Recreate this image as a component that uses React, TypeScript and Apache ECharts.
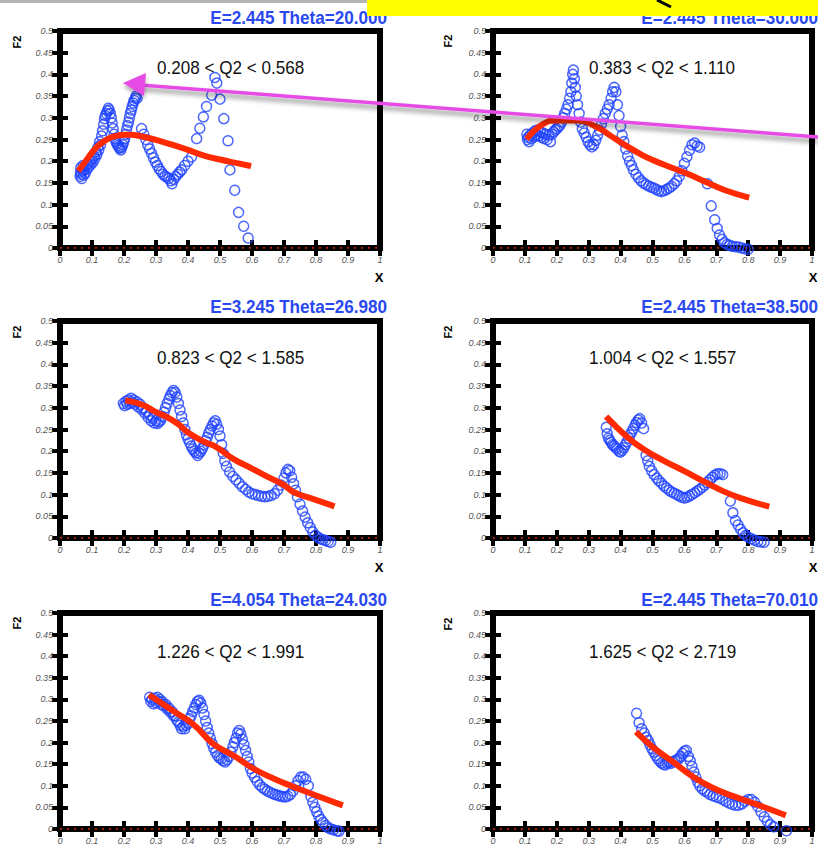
import React, { useEffect, useRef } from "react";
import * as echarts from "echarts";

// ---- Data ----
const X_MIN = 0, X_MAX = 1, X_STEP = 0.1;
const Y_MIN = 0, Y_MAX = 0.5, Y_STEP = 0.05;

const TITLES = [
  "E=2.445 Theta=20.000",
  "E=2.445 Theta=30.000",
  "E=3.245 Theta=26.980",
  "E=2.445 Theta=38.500",
  "E=4.054 Theta=24.030",
  "E=2.445 Theta=70.010",
];
const Q2_RANGES = [
  "0.208 < Q2 < 0.568",
  "0.383 < Q2 < 1.110",
  "0.823 < Q2 < 1.585",
  "1.004 < Q2 < 1.557",
  "1.226 < Q2 < 1.991",
  "1.625 < Q2 < 2.719",
];

const DATA_1 = [
  [0.063,0.165],[0.064,0.175],[0.065,0.185],[0.066,0.17],[0.068,0.16],[0.07,0.178],[0.072,0.19],[0.074,0.168],[0.076,0.18],[0.079,0.172],
  [0.082,0.19],[0.085,0.182],[0.088,0.195],[0.091,0.188],[0.094,0.2],[0.097,0.193],[0.1,0.205],[0.103,0.198],[0.106,0.212],[0.109,0.206],
  [0.112,0.222],[0.115,0.215],[0.118,0.232],[0.121,0.226],[0.124,0.245],[0.127,0.238],[0.13,0.258],[0.133,0.27],[0.136,0.285],[0.139,0.298],
  [0.142,0.305],[0.145,0.31],[0.148,0.316],[0.151,0.322],[0.154,0.318],[0.157,0.31],[0.16,0.3],[0.163,0.288],[0.166,0.275],[0.169,0.262],
  [0.172,0.252],[0.175,0.245],[0.178,0.24],[0.181,0.236],[0.184,0.232],[0.187,0.23],[0.19,0.226],[0.193,0.232],[0.196,0.238],[0.199,0.245],
  [0.202,0.252],[0.205,0.262],[0.208,0.272],[0.211,0.282],[0.214,0.29],[0.217,0.3],[0.22,0.31],[0.223,0.318],[0.226,0.326],[0.229,0.334],
  [0.232,0.34],[0.235,0.345],[0.238,0.35],[0.241,0.345],[0.255,0.275],[0.262,0.262],[0.268,0.25],[0.274,0.238],[0.28,0.228],[0.286,0.218],
  [0.292,0.208],[0.298,0.198],[0.304,0.19],[0.31,0.182],[0.316,0.176],[0.322,0.17],[0.328,0.166],[0.334,0.163],[0.34,0.16],[0.346,0.155],
  [0.35,0.148],[0.356,0.158],[0.362,0.165],[0.368,0.17],[0.374,0.175],[0.38,0.18],[0.39,0.19],[0.4,0.2],[0.411,0.21],[0.427,0.252],
  [0.437,0.276],[0.448,0.302],[0.458,0.326],[0.474,0.352],[0.49,0.38],[0.484,0.393],[0.5,0.343],[0.512,0.298],[0.525,0.247],[0.531,0.18],
  [0.546,0.133],[0.558,0.082],[0.574,0.05],[0.588,0.023],
];
const FIT_1 = [
  [0.063,0.183],[0.08,0.2],[0.1,0.22],[0.12,0.236],[0.14,0.247],[0.16,0.255],[0.18,0.259],[0.2,0.261],[0.22,0.261],[0.25,0.258],
  [0.3,0.249],[0.35,0.238],[0.4,0.226],[0.45,0.213],[0.5,0.204],[0.55,0.196],[0.588,0.19],
];

const DATA_2 = [
  [0.106,0.262],[0.108,0.25],[0.11,0.255],[0.113,0.245],[0.116,0.26],[0.12,0.252],[0.124,0.265],[0.128,0.256],[0.132,0.27],[0.136,0.26],
  [0.14,0.272],[0.144,0.258],[0.148,0.268],[0.152,0.255],[0.156,0.265],[0.16,0.252],[0.165,0.262],[0.17,0.25],[0.175,0.26],[0.18,0.245],
  [0.185,0.262],[0.19,0.268],[0.195,0.272],[0.2,0.275],[0.205,0.28],[0.21,0.282],[0.215,0.29],[0.22,0.3],[0.225,0.31],[0.23,0.32],
  [0.235,0.33],[0.24,0.345],[0.244,0.36],[0.247,0.38],[0.25,0.4],[0.252,0.41],[0.255,0.39],[0.258,0.37],[0.261,0.35],[0.265,0.33],
  [0.27,0.31],[0.275,0.29],[0.28,0.275],[0.286,0.265],[0.292,0.255],[0.298,0.245],[0.304,0.238],[0.31,0.233],[0.316,0.238],[0.322,0.248],
  [0.328,0.26],[0.334,0.272],[0.34,0.285],[0.346,0.298],[0.352,0.31],[0.358,0.32],[0.364,0.33],[0.37,0.345],[0.375,0.36],[0.38,0.37],
  [0.385,0.36],[0.39,0.33],[0.395,0.305],[0.4,0.28],[0.405,0.26],[0.41,0.245],[0.416,0.228],[0.422,0.212],[0.428,0.2],[0.434,0.19],
  [0.44,0.18],[0.448,0.17],[0.456,0.162],[0.464,0.155],[0.472,0.15],[0.48,0.146],[0.488,0.143],[0.496,0.14],[0.504,0.138],[0.512,0.135],
  [0.52,0.132],[0.528,0.13],[0.536,0.132],[0.544,0.135],[0.552,0.138],[0.56,0.142],[0.568,0.148],[0.576,0.155],[0.584,0.165],[0.592,0.178],
  [0.6,0.195],[0.608,0.21],[0.616,0.225],[0.624,0.238],[0.632,0.242],[0.64,0.235],[0.648,0.232],[0.672,0.148],[0.684,0.097],[0.695,0.065],
  [0.703,0.045],[0.71,0.03],[0.718,0.02],[0.726,0.012],[0.734,0.008],[0.742,0.006],[0.75,0.004],[0.76,0.003],[0.77,0.002],[0.78,0.0],
  [0.79,-0.002],[0.8,-0.003],
];
const FIT_2 = [
  [0.111,0.256],[0.158,0.286],[0.199,0.294],[0.262,0.294],[0.325,0.279],[0.366,0.26],[0.408,0.24],[0.471,0.213],[0.533,0.193],[0.606,0.172],
  [0.68,0.148],[0.732,0.132],[0.794,0.118],
];

const DATA_3 = [
  [0.198,0.31],[0.202,0.305],[0.206,0.315],[0.21,0.308],[0.214,0.318],[0.218,0.31],[0.222,0.322],[0.226,0.312],[0.23,0.318],[0.235,0.308],
  [0.24,0.314],[0.245,0.302],[0.25,0.308],[0.255,0.296],[0.26,0.3],[0.265,0.288],[0.27,0.292],[0.275,0.278],[0.28,0.284],[0.285,0.27],
  [0.29,0.276],[0.295,0.265],[0.3,0.27],[0.305,0.264],[0.31,0.268],[0.315,0.272],[0.32,0.28],[0.325,0.29],[0.33,0.3],[0.335,0.31],
  [0.34,0.32],[0.345,0.328],[0.35,0.335],[0.355,0.34],[0.36,0.335],[0.365,0.325],[0.37,0.31],[0.375,0.295],[0.38,0.28],[0.385,0.265],
  [0.39,0.25],[0.395,0.238],[0.4,0.228],[0.405,0.22],[0.41,0.212],[0.415,0.205],[0.42,0.2],[0.425,0.196],[0.43,0.19],[0.435,0.195],
  [0.44,0.2],[0.445,0.206],[0.45,0.215],[0.455,0.224],[0.46,0.232],[0.465,0.242],[0.47,0.25],[0.475,0.258],[0.48,0.265],[0.485,0.27],
  [0.49,0.262],[0.495,0.25],[0.5,0.235],[0.505,0.215],[0.51,0.195],[0.515,0.178],[0.52,0.165],[0.53,0.152],[0.54,0.142],[0.55,0.134],
  [0.56,0.126],[0.57,0.118],[0.58,0.112],[0.59,0.106],[0.6,0.102],[0.61,0.1],[0.62,0.098],[0.63,0.096],[0.64,0.095],[0.65,0.096],
  [0.66,0.098],[0.67,0.102],[0.68,0.11],[0.69,0.122],[0.7,0.138],[0.706,0.15],[0.712,0.158],[0.718,0.155],[0.724,0.14],[0.73,0.125],
  [0.736,0.11],[0.742,0.095],[0.75,0.078],[0.758,0.062],[0.766,0.048],[0.774,0.035],[0.782,0.024],[0.79,0.014],[0.798,0.006],[0.806,0.002],
  [0.814,-0.002],[0.822,-0.004],[0.83,-0.006],[0.838,-0.008],[0.846,-0.01],
];
const FIT_3 = [
  [0.213,0.316],[0.26,0.306],[0.3,0.29],[0.333,0.279],[0.37,0.262],[0.4,0.243],[0.45,0.222],[0.49,0.209],[0.54,0.183],[0.6,0.16],
  [0.646,0.142],[0.7,0.122],[0.729,0.106],[0.79,0.09],[0.849,0.075],
];

const DATA_4 = [
  [0.355,0.255],[0.358,0.24],[0.362,0.23],[0.366,0.225],[0.37,0.22],[0.375,0.215],[0.38,0.212],[0.385,0.208],[0.39,0.205],[0.395,0.2],
  [0.4,0.198],[0.405,0.202],[0.41,0.208],[0.415,0.215],[0.42,0.222],[0.425,0.23],[0.43,0.238],[0.435,0.245],[0.44,0.252],[0.445,0.26],
  [0.45,0.266],[0.455,0.272],[0.46,0.275],[0.466,0.265],[0.472,0.252],[0.48,0.19],[0.485,0.178],[0.49,0.165],[0.497,0.155],[0.505,0.146],
  [0.513,0.138],[0.52,0.132],[0.528,0.126],[0.536,0.12],[0.544,0.115],[0.552,0.11],[0.56,0.106],[0.568,0.103],[0.576,0.1],[0.584,0.097],
  [0.592,0.094],[0.6,0.092],[0.608,0.094],[0.616,0.097],[0.624,0.1],[0.632,0.104],[0.64,0.108],[0.648,0.112],[0.656,0.117],[0.664,0.122],
  [0.672,0.128],[0.68,0.134],[0.688,0.14],[0.696,0.145],[0.704,0.148],[0.712,0.148],[0.72,0.146],[0.744,0.085],[0.752,0.058],[0.76,0.04],
  [0.768,0.03],[0.776,0.02],[0.784,0.012],[0.792,0.006],[0.8,0.002],[0.81,-0.002],[0.82,-0.005],[0.83,-0.008],[0.84,-0.009],[0.85,-0.01],
];
const FIT_4 = [
  [0.361,0.275],[0.419,0.234],[0.471,0.205],[0.533,0.179],[0.6,0.154],[0.659,0.131],[0.721,0.108],[0.784,0.09],[0.857,0.074],
];

const DATA_5 = [
  [0.28,0.305],[0.284,0.295],[0.288,0.3],[0.292,0.29],[0.296,0.302],[0.3,0.292],[0.304,0.305],[0.308,0.295],[0.312,0.3],[0.316,0.288],
  [0.32,0.294],[0.325,0.285],[0.33,0.288],[0.335,0.278],[0.34,0.28],[0.345,0.27],[0.35,0.272],[0.355,0.262],[0.36,0.262],[0.365,0.252],
  [0.37,0.248],[0.375,0.24],[0.38,0.232],[0.385,0.238],[0.39,0.232],[0.395,0.24],[0.4,0.245],[0.405,0.255],[0.41,0.262],[0.415,0.272],
  [0.42,0.28],[0.425,0.288],[0.43,0.295],[0.435,0.298],[0.44,0.292],[0.445,0.28],[0.45,0.265],[0.455,0.25],[0.46,0.235],[0.465,0.222],
  [0.47,0.21],[0.475,0.198],[0.48,0.188],[0.486,0.178],[0.492,0.17],[0.498,0.165],[0.504,0.162],[0.51,0.158],[0.516,0.155],[0.522,0.16],
  [0.528,0.168],[0.534,0.178],[0.54,0.19],[0.545,0.2],[0.55,0.21],[0.555,0.222],[0.56,0.228],[0.565,0.22],[0.57,0.208],[0.575,0.195],
  [0.58,0.182],[0.585,0.168],[0.59,0.155],[0.595,0.14],[0.6,0.13],[0.608,0.12],[0.616,0.11],[0.624,0.102],[0.632,0.096],[0.64,0.092],
  [0.648,0.088],[0.656,0.085],[0.664,0.082],[0.672,0.08],[0.68,0.078],[0.688,0.076],[0.696,0.075],[0.704,0.074],[0.712,0.076],[0.72,0.08],
  [0.728,0.088],[0.736,0.1],[0.744,0.112],[0.752,0.12],[0.76,0.12],[0.768,0.115],[0.776,0.1],[0.784,0.075],[0.79,0.062],[0.796,0.05],
  [0.802,0.04],[0.808,0.03],[0.815,0.022],[0.822,0.015],[0.83,0.008],[0.838,0.003],[0.846,0.0],[0.855,-0.002],[0.865,-0.004],[0.872,-0.005],
];
const FIT_5 = [
  [0.286,0.307],[0.354,0.273],[0.417,0.242],[0.479,0.197],[0.542,0.17],[0.604,0.14],[0.667,0.117],[0.729,0.098],[0.792,0.08],[0.875,0.057],
];

const DATA_6 = [
  [0.45,0.268],[0.458,0.246],[0.466,0.232],[0.474,0.222],[0.48,0.212],[0.486,0.205],[0.492,0.195],[0.498,0.186],[0.504,0.178],[0.51,0.17],
  [0.516,0.163],[0.522,0.158],[0.528,0.153],[0.534,0.15],[0.54,0.148],[0.546,0.152],[0.552,0.155],[0.558,0.152],[0.564,0.155],[0.57,0.158],
  [0.576,0.16],[0.582,0.162],[0.588,0.168],[0.594,0.175],[0.6,0.18],[0.606,0.182],[0.612,0.168],[0.618,0.158],[0.624,0.145],[0.63,0.132],
  [0.636,0.12],[0.642,0.108],[0.648,0.1],[0.656,0.093],[0.664,0.088],[0.672,0.085],[0.68,0.08],[0.69,0.077],[0.7,0.074],[0.71,0.072],
  [0.72,0.068],[0.73,0.064],[0.74,0.06],[0.75,0.057],[0.76,0.055],[0.77,0.055],[0.78,0.058],[0.79,0.064],[0.8,0.068],[0.81,0.068],
  [0.82,0.062],[0.83,0.052],[0.84,0.04],[0.85,0.028],[0.86,0.018],[0.87,0.01],[0.88,0.005],[0.92,-0.004],
];
const FIT_6 = [
  [0.455,0.22],[0.502,0.189],[0.565,0.155],[0.627,0.121],[0.69,0.095],[0.753,0.076],[0.826,0.057],[0.909,0.034],
];

const ZERO_LINE = [[0, 0], [1, 0]];

const DATASETS = [DATA_1, DATA_2, DATA_3, DATA_4, DATA_5, DATA_6];
const FITS = [FIT_1, FIT_2, FIT_3, FIT_4, FIT_5, FIT_6];

// ---- Layout ----
const LAYOUT = [
  { left: 60, top: 31, width: 320, height: 217, titleRight: 387, titleY: 18, q2X: 157, q2Y: 68, f2X: 17, f2Y: 42, xlX: 379, xlY: 277 },
  { left: 493, top: 31, width: 319, height: 217, titleRight: 818, titleY: 18, q2X: 589, q2Y: 68, f2X: 448, f2Y: 41, xlX: 813, xlY: 277 },
  { left: 60, top: 321, width: 320, height: 217, titleRight: 387, titleY: 307, q2X: 157, q2Y: 358, f2X: 17, f2Y: 332, xlX: 379, xlY: 567 },
  { left: 493, top: 321, width: 319, height: 217, titleRight: 818, titleY: 307, q2X: 589, q2Y: 358, f2X: 448, f2Y: 332, xlX: 813, xlY: 567 },
  { left: 60, top: 613, width: 320, height: 219, titleRight: 387, titleY: 600, q2X: 157, q2Y: 652, f2X: 17, f2Y: 623, xlX: 0, xlY: 0 },
  { left: 493, top: 613, width: 319, height: 219, titleRight: 818, titleY: 600, q2X: 589, q2Y: 652, f2X: 448, f2Y: 624, xlX: 0, xlY: 0 },
];

const BLUE = "#1f42ff";
const RED = "#ff2a00";
const FONT = '"Liberation Sans", Arial, sans-serif';

function txt(x: number, y: number, text: string, opts: any = {}) {
  const { align = "left", vAlign = "middle", size = 12, weight = "normal", color = "#000", style = "normal", rotation = 0, scaleX = 1 } = opts;
  return {
    type: "text",
    x,
    y,
    rotation,
    scaleX,
    z: 50,
    style: {
      text,
      fill: color,
      font: `${style} ${weight} ${size}px ${FONT}`,
      textAlign: align,
      textVerticalAlign: vAlign,
      align,
      verticalAlign: vAlign,
    },
  };
}

function buildOption() {
  const grid: any[] = [];
  const xAxis: any[] = [];
  const yAxis: any[] = [];
  const series: any[] = [];
  const graphic: any[] = [];

  const labelStyle = { fontSize: 9, fontStyle: "italic", color: "#555", fontFamily: FONT };
  const tick = { show: true, inside: true, length: 8, lineStyle: { width: 4, color: "#000" } };

  LAYOUT.forEach((L, i) => {
    grid.push({ left: L.left, top: L.top, width: L.width, height: L.height, show: true, borderColor: "#000", borderWidth: 6, backgroundColor: "#fff" });
    const xBase = { type: "value", gridIndex: i, min: X_MIN, max: X_MAX, interval: X_STEP, axisLine: { show: false }, splitLine: { show: false }, axisTick: tick };
    const yBase = { type: "value", gridIndex: i, min: Y_MIN, max: Y_MAX, interval: Y_STEP, axisLine: { show: false }, splitLine: { show: false }, axisTick: tick };
    xAxis.push({ ...xBase, position: "bottom", axisLabel: { ...labelStyle, margin: 7 } });
    xAxis.push({ ...xBase, position: "top", axisLabel: { show: false } });
    yAxis.push({ ...yBase, position: "left", axisLabel: { ...labelStyle, margin: 7 } });
    yAxis.push({ ...yBase, position: "right", axisLabel: { show: false } });

    const xi = 2 * i;
    series.push({
      type: "line", xAxisIndex: xi, yAxisIndex: xi, data: ZERO_LINE, showSymbol: false, silent: true,
      lineStyle: { color: RED, width: 1.5, type: [2, 5] }, z: 3,
    });
    series.push({
      type: "scatter", xAxisIndex: xi, yAxisIndex: xi, data: DATASETS[i], symbol: "circle", symbolSize: 10, clip: false,
      itemStyle: { color: "rgba(0,0,0,0)", borderColor: BLUE, borderWidth: 1.5 }, z: 4,
    });
    series.push({
      type: "line", xAxisIndex: xi, yAxisIndex: xi, data: FITS[i], showSymbol: false, smooth: true,
      lineStyle: { color: RED, width: 6, cap: "square" }, z: 5,
    });

    graphic.push(txt(L.titleRight, L.titleY, TITLES[i], { align: "right", size: 19, weight: "bold", color: "#2a48f0", scaleX: 0.9 }));
    graphic.push(txt(L.q2X, L.q2Y, Q2_RANGES[i], { align: "left", size: 18, color: "#111", scaleX: 0.95 }));
    graphic.push(txt(L.f2X, L.f2Y, "F2", { align: "center", size: 11, weight: "bold", rotation: Math.PI / 2 }));
    if (L.xlY > 0) graphic.push(txt(L.xlX, L.xlY, "X", { align: "center", size: 13, weight: "bold" }));
  });

  // top decorations
  graphic.push({ type: "rect", shape: { x: 0, y: 0, width: 367, height: 3 }, style: { fill: "#b4b4b4" }, z: 60 });
  graphic.push({ type: "rect", shape: { x: 367, y: 0, width: 451, height: 16 }, style: { fill: "#ffff00" }, z: 60 });
  graphic.push({ type: "line", shape: { x1: 657, y1: 0, x2: 671, y2: 7 }, style: { stroke: "#000", lineWidth: 3 }, z: 61 });

  // magenta arrow
  graphic.push({
    type: "line", shape: { x1: 818, y1: 137, x2: 140, y2: 85 },
    style: { stroke: "#e64ce6", lineWidth: 3.5, shadowColor: "rgba(0,0,0,0.45)", shadowBlur: 5, shadowOffsetY: 4 }, z: 70,
  });
  graphic.push({
    type: "polygon", shape: { points: [[123, 83], [146, 73], [144, 96]] },
    style: { fill: "#e64ce6", shadowColor: "rgba(0,0,0,0.35)", shadowBlur: 4, shadowOffsetY: 3 }, z: 71,
  });

  return { animation: false, backgroundColor: "#fff", grid, xAxis, yAxis, series, graphic };
}

export default function App() {
  const ref = useRef<HTMLDivElement>(null);
  useEffect(() => {
    if (!ref.current) return;
    const chart = echarts.init(ref.current, undefined, { renderer: "svg" });
    chart.setOption(buildOption() as any);
    return () => chart.dispose();
  }, []);
  return (
    <div
      ref={ref}
      style={{ position: "fixed", left: 0, top: 0, width: 818, height: 845, background: "#fff" }}
    />
  );
}
